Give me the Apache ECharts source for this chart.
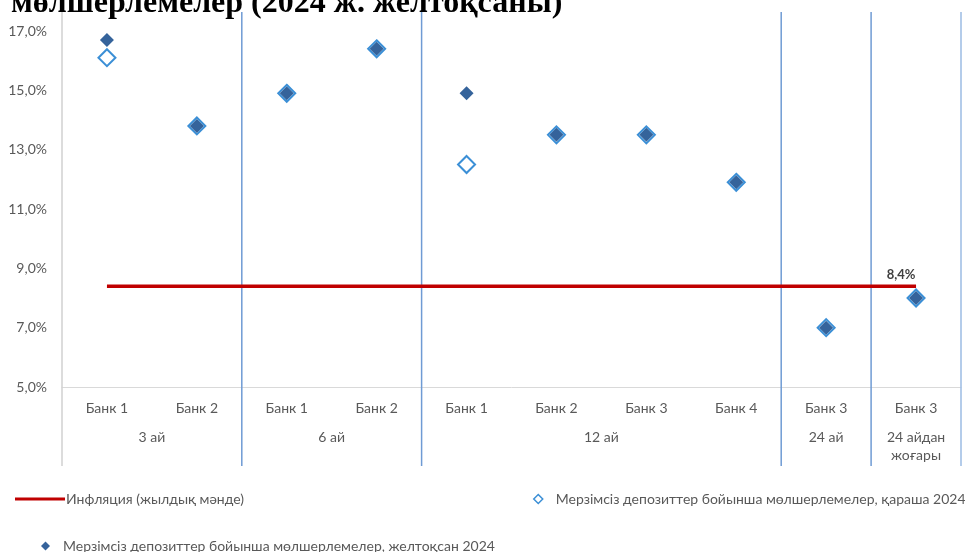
<!DOCTYPE html>
<html>
<head>
<meta charset="utf-8">
<script src="https://cdn.jsdelivr.net/npm/echarts@6/dist/echarts.min.js"></script>
<style>
  html, body { margin: 0; padding: 0; background: #fff; }
  #chart { width: 965px; height: 552px; }
</style>
</head>
<body>
<div id="chart"></div>
<script>
// Bank names along the lower axis, one per column
const banks = ['Банк 1', 'Банк 2', 'Банк 1', 'Банк 2', 'Банк 1', 'Банк 2', 'Банк 3', 'Банк 4', 'Банк 3', 'Банк 3'];
// Term groups: first and last column index of each group, and its caption
const groupStart = [0, 2, 4, 8, 9];
const groupEnd = [1, 3, 7, 8, 9];
const groupNames = ['3 ай', '6 ай', '12 ай', '24 ай', '24 айдан\nжоғары'];
// Rates, % (November and December 2024)
const rateNov = [16.1, 13.8, 14.9, 16.4, 12.5, 13.5, 13.5, 11.9, 7.0, 8.0];
const rateDec = [16.7, 13.8, 14.9, 16.4, 14.9, 13.5, 13.5, 11.9, 7.0, 8.0];
// Annual inflation, %
const inflation = [8.4, 8.4, 8.4, 8.4, 8.4, 8.4, 8.4, 8.4, 8.4, 8.4];
// Value axis ticks
const yMin = 5, yMax = 17, yStep = 2;

const FONT = 'Lato, Carlito, "Open Sans", sans-serif';
const TXT = '#595959';

const nameInfl = 'Инфляция (жылдық мәнде)';
const nameNov = 'Мерзімсіз депозиттер бойынша мөлшерлемелер, қараша 2024';
const nameDec = 'Мерзімсіз депозиттер бойынша мөлшерлемелер, желтоқсан 2024';

const fmtPct = v => v.toFixed(1).replace('.', ',') + '%';

// inflation points; the last one carries the value label
const inflationData = inflation.map((v, i) => i === inflation.length - 1
  ? {
      value: v,
      label: {
        show: true, position: 'top', distance: 4, offset: [-15, -1],
        formatter: p => fmtPct(p.value),
        color: '#404040', fontFamily: FONT, fontSize: 13, fontWeight: 'bold'
      }
    }
  : v);

const chart = echarts.init(document.getElementById('chart'), null, { renderer: 'canvas' });

const legendBase = {
  orient: 'horizontal',
  itemGap: 0,
  padding: 0,
  selectedMode: false
};

chart.setOption({
  animation: false,
  backgroundColor: '#fff',
  title: {
    text: 'мөлшерлемелер (2024 ж. желтоқсаны)',
    left: 6,
    top: -17,
    textStyle: { fontFamily: '"Liberation Serif", "Times New Roman", serif', fontWeight: 'bold', fontSize: 32, color: '#000' }
  },
  grid: { left: 62, right: 4, top: 31, bottom: 165, containLabel: false },
  legend: [
    Object.assign({}, legendBase, {
      data: [{ name: nameInfl, icon: 'rect' }],
      left: 15, top: 492, itemWidth: 50, itemHeight: 3,
      textStyle: { color: TXT, fontFamily: FONT, fontSize: 14, padding: [0, 0, 0, -4] }
    }),
    Object.assign({}, legendBase, {
      data: [{ name: nameNov, icon: 'diamond', itemStyle: { color: '#fff', borderColor: '#3b8fd6', borderWidth: 1.5 } }],
      left: 533, top: 492, itemWidth: 9, itemHeight: 9,
      textStyle: { color: TXT, fontFamily: FONT, fontSize: 14, padding: [0, 0, 0, 8] }
    }),
    Object.assign({}, legendBase, {
      data: [{ name: nameDec, icon: 'diamond' }],
      left: 41, top: 539, itemWidth: 9, itemHeight: 9,
      textStyle: { color: TXT, fontFamily: FONT, fontSize: 14, padding: [0, 0, 0, 8] }
    })
  ],
  xAxis: {
    type: 'category',
    data: banks,
    boundaryGap: true,
    axisLine: { show: true, lineStyle: { color: '#d9d9d9', width: 1 } },
    axisTick: { show: false },
    axisLabel: { color: TXT, fontFamily: FONT, fontSize: 14, margin: 14, interval: 0 },
    splitLine: { show: false }
  },
  yAxis: {
    type: 'value',
    min: yMin, max: yMax, interval: yStep,
    axisLine: { show: false },
    axisTick: { show: false },
    splitLine: { show: false },
    axisLabel: { color: TXT, fontFamily: FONT, fontSize: 14, margin: 15, formatter: v => fmtPct(v) }
  },
  series: [
    {
      // group captions and the vertical separators between term groups
      type: 'custom',
      silent: true,
      clip: false,
      z: 1,
      encode: { x: [0, 1] },
      data: groupStart.map((s, i) => [s, groupEnd[i]]),
      renderItem: function (params, api) {
        const s = api.value(0), e = api.value(1);
        const band = api.size([1, 0])[0];
        const top = api.coord([s, yMax]);
        const base = api.coord([s, yMin]);
        const x0 = top[0] - band / 2;
        const x1 = api.coord([e, yMax])[0] + band / 2;
        const yTop = top[1] - 19;
        const yBot = base[1] + 79;
        const last = params.dataIndex === groupStart.length - 1;
        const children = [];
        if (params.dataIndex === 0) {
          children.push({
            type: 'line',
            shape: { x1: x0, y1: yTop, x2: x0, y2: yBot },
            style: { stroke: '#d0d0d0', lineWidth: 1.5 }
          });
        }
        children.push({
          type: 'line',
          shape: { x1: x1, y1: yTop, x2: x1, y2: yBot },
          style: { stroke: last ? '#9bbbe3' : '#6f9bd4', lineWidth: 1.5 }
        });
        children.push({
          type: 'text',
          style: {
            text: groupNames[params.dataIndex],
            x: (x0 + x1) / 2,
            y: base[1] + 41,
            align: 'center',
            verticalAlign: 'top',
            fill: TXT,
            font: '14px ' + FONT,
            lineHeight: 18
          }
        });
        return { type: 'group', children: children };
      }
    },
    {
      name: nameInfl,
      type: 'line',
      data: inflationData,
      symbol: 'circle',
      symbolSize: 0,
      showSymbol: true,
      showAllSymbol: true,
      z: 2,
      lineStyle: { color: '#c00000', width: 3.5 },
      itemStyle: { color: '#c00000' },
      emphasis: { disabled: true }
    },
    {
      name: nameNov,
      type: 'scatter',
      data: rateNov,
      symbol: 'diamond',
      symbolSize: 17,
      z: 3,
      itemStyle: { color: '#ffffff', borderColor: '#3b8fd6', borderWidth: 2, opacity: 1 },
      emphasis: { disabled: true }
    },
    {
      name: nameDec,
      type: 'scatter',
      data: rateDec,
      symbol: 'diamond',
      symbolSize: 14,
      z: 4,
      itemStyle: { color: '#35639b', opacity: 1 },
      emphasis: { disabled: true }
    }
  ]
});
</script>
</body>
</html>
